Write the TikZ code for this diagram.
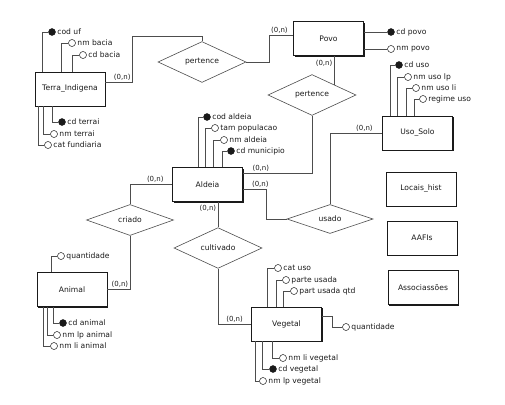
\documentclass[tikz,border=0pt]{standalone}
\usepackage{fontspec}
\setmainfont{DejaVu Sans}
\usetikzlibrary{positioning,shapes.geometric,shadows}
\definecolor{ink}{HTML}{1A1A1A}
\definecolor{linegray}{HTML}{4D4D4D}
\tikzset{
  every node/.style={font=\fontsize{7.6}{9}\selectfont, text=ink},
  entity/.style={draw=ink, line width=0.7pt, fill=white, minimum width=70pt, minimum height=34pt, inner sep=0pt, drop shadow={shadow xshift=1.1pt, shadow yshift=-1.1pt, fill=ink, opacity=1}},
  relation/.style={diamond, draw=linegray, line width=0.6pt, fill=white, inner sep=0pt, minimum width=88pt, minimum height=30pt},
  conn/.style={draw=linegray, line width=0.6pt},
  keyattr/.style={circle, draw=ink, fill=ink, minimum size=7pt, inner sep=0pt},
  attr/.style={circle, draw=ink, fill=white, minimum size=7pt, inner sep=0pt, line width=0.5pt},
  attrlabel/.style={label distance=1pt, inner sep=0.5pt},
  card/.style={font=\fontsize{7}{8}\selectfont, inner sep=1.5pt},
}
\begin{document}
\begin{tikzpicture}[x=1pt,y=-1pt]
\useasboundingbox (0,0) rectangle (505,404);
\node[entity] (terra) at (70,89) {Terra\_Indigena};
\node[entity] (povo) at (328.5,38.5) {Povo};
\node[entity] (aldeia) at (207.5,184.5) {Aldeia};
\node[entity] (uso) at (417.5,133) {Uso\_Solo};
\node[entity] (locais) at (421,189) {Locais\_hist};
\node[entity] (aafis) at (422,238) {AAFIs};
\node[entity] (assoc) at (423,287.5) {Associassões};
\node[entity] (animal) at (72,289.5) {Animal};
\node[entity] (vegetal) at (286.5,324) {Vegetal};
\node[relation] (pert1) at (202,62) {pertence};
\node[relation, minimum height=31pt] (pert2) at (312,95) {pertence};
\node[relation, minimum width=86pt, minimum height=29pt] (usado) at (330,219) {usado};
\node[relation, minimum height=29pt] (cultivado) at (218,248) {cultivado};
\node[relation, minimum width=87pt, minimum height=31pt] (criado) at (130,220) {criado};
\node[keyattr, label={[attrlabel]right:cod uf}] (codUf) at (52,32) {};
\node[attr, label={[attrlabel]right:nm bacia}] (nmBacia) at (72,43) {};
\node[attr, label={[attrlabel]right:cd bacia}] (cdBacia) at (83,55) {};
\node[keyattr, label={[attrlabel]right:cd terrai}] (cdTerrai) at (62,122) {};
\node[attr, label={[attrlabel]right:nm terrai}] (nmTerrai) at (54,134) {};
\node[attr, label={[attrlabel]right:cat fundiaria}] (catFund) at (48,145) {};
\node[keyattr, label={[attrlabel]right:cd povo}] (cdPovo) at (391,32) {};
\node[attr, label={[attrlabel]right:nm povo}] (nmPovo) at (391,49) {};
\node[keyattr, label={[attrlabel]right:cod aldeia}] (codAldeia) at (207,117) {};
\node[attr, label={[attrlabel]right:tam populacao}] (tamPop) at (215,128) {};
\node[attr, label={[attrlabel]right:nm aldeia}] (nmAldeia) at (224,140) {};
\node[keyattr, label={[attrlabel]right:cd municipio}] (cdMun) at (231,151) {};
\node[keyattr, label={[attrlabel]right:cd uso}] (cdUso) at (399,65) {};
\node[attr, label={[attrlabel]right:nm uso lp}] (nmUsoLp) at (408,77) {};
\node[attr, label={[attrlabel]right:nm uso li}] (nmUsoLi) at (416,88) {};
\node[attr, label={[attrlabel]right:regime uso}] (regimeUso) at (423,99) {};
\node[attr, label={[attrlabel]right:quantidade}] (quantA) at (61,256) {};
\node[keyattr, label={[attrlabel]right:cd animal}] (cdAnimal) at (63,323) {};
\node[attr, label={[attrlabel]right:nm lp animal}] (nmLpAnimal) at (57,335) {};
\node[attr, label={[attrlabel]right:nm li animal}] (nmLiAnimal) at (54,346) {};
\node[attr, label={[attrlabel]right:cat uso}] (catUso) at (278,268) {};
\node[attr, label={[attrlabel]right:parte usada}] (parteUsada) at (286,280) {};
\node[attr, label={[attrlabel]right:part usada qtd}] (partQtd) at (294,291) {};
\node[attr, label={[attrlabel]right:quantidade}] (quantV) at (346,327) {};
\node[attr, label={[attrlabel]right:nm li vegetal}] (nmLiVeg) at (283,358) {};
\node[keyattr, label={[attrlabel]right:cd vegetal}] (cdVeg) at (273,369) {};
\node[attr, label={[attrlabel]right:nm lp vegetal}] (nmLpVeg) at (263,381) {};
\draw[conn] ([yshift=7pt]terra.east) -- ++(27,0) node[card, above left]{(0,n)} |- ([yshift=5pt]pert1.north) -- (pert1.north);
\draw[conn] (pert1.east) -- ++(23,0) |- node[card, above right, pos=0.5]{(0,n)} ([yshift=3.5pt]povo.west);
\draw[conn] (povo.south -| pert2.north east) -- node[card, left, pos=0.25]{(0,n)} (pert2.north east);
\draw[conn] (pert2.south) |- node[card, above, pos=0.87]{(0,n)} ([yshift=11.5pt]aldeia.east);
\draw[conn] ([yshift=-4.5pt]aldeia.east) -- node[card, above, pos=0.76]{(0,n)} ++(23,0) |- (usado.west);
\draw[conn] (usado.north) |- node[card, above, pos=0.83]{(0,n)} (uso.west);
\draw[conn] (aldeia.south -| cultivado.north) -- node[card, left, pos=0.25]{(0,n)} (cultivado.north);
\draw[conn] (cultivado.south) |- node[card, above, pos=0.75]{(0,n)} (vegetal.west);
\draw[conn] (aldeia.west) -| node[card, above, pos=0.2]{(0,n)} (criado.north);
\draw[conn] (criado.south) |- node[card, above left, pos=0.5]{(0,n)} (animal.east);
\draw[conn] ([xshift=8pt]terra.north west) |- (codUf);\draw[conn] ([xshift=27pt]terra.north west) |- (nmBacia);\draw[conn] ([xshift=38pt]terra.north west) |- (cdBacia);
\draw[conn] ([xshift=18pt]terra.south west) |- (cdTerrai);\draw[conn] ([xshift=9pt]terra.south west) |- (nmTerrai);\draw[conn] ([xshift=4pt]terra.south west) |- (catFund);
\draw[conn] ([yshift=6.5pt]povo.east) -- (cdPovo);\draw[conn] ([yshift=-10.5pt]povo.east) -- (nmPovo);
\draw[conn] ([xshift=26pt]aldeia.north west) |- (codAldeia);\draw[conn] ([xshift=33pt]aldeia.north west) |- (tamPop);\draw[conn] ([xshift=41pt]aldeia.north west) |- (nmAldeia);\draw[conn] ([xshift=50pt]aldeia.north west) |- (cdMun);
\draw[conn] ([xshift=8.5pt]uso.north west) |- (cdUso);\draw[conn] ([xshift=15.5pt]uso.north west) |- (nmUsoLp);\draw[conn] ([xshift=24.5pt]uso.north west) |- (nmUsoLi);\draw[conn] ([xshift=32.5pt]uso.north west) |- (regimeUso);
\draw[conn] ([xshift=15pt]animal.north west) |- (quantA);
\draw[conn] ([xshift=17pt]animal.south west) |- (cdAnimal);\draw[conn] ([xshift=11pt]animal.south west) |- (nmLpAnimal);\draw[conn] ([xshift=7pt]animal.south west) |- (nmLiAnimal);
\draw[conn] ([xshift=16.5pt]vegetal.north west) |- (catUso);\draw[conn] ([xshift=25.5pt]vegetal.north west) |- (parteUsada);\draw[conn] ([xshift=32.5pt]vegetal.north west) |- (partQtd);
\draw[conn] ([yshift=8pt]vegetal.east) -- ++(10.5,0) |- (quantV);
\draw[conn] ([xshift=21.5pt]vegetal.south west) |- (nmLiVeg);\draw[conn] ([xshift=11.5pt]vegetal.south west) |- (cdVeg);\draw[conn] ([xshift=4.5pt]vegetal.south west) |- (nmLpVeg);
\end{tikzpicture}
\end{document}
